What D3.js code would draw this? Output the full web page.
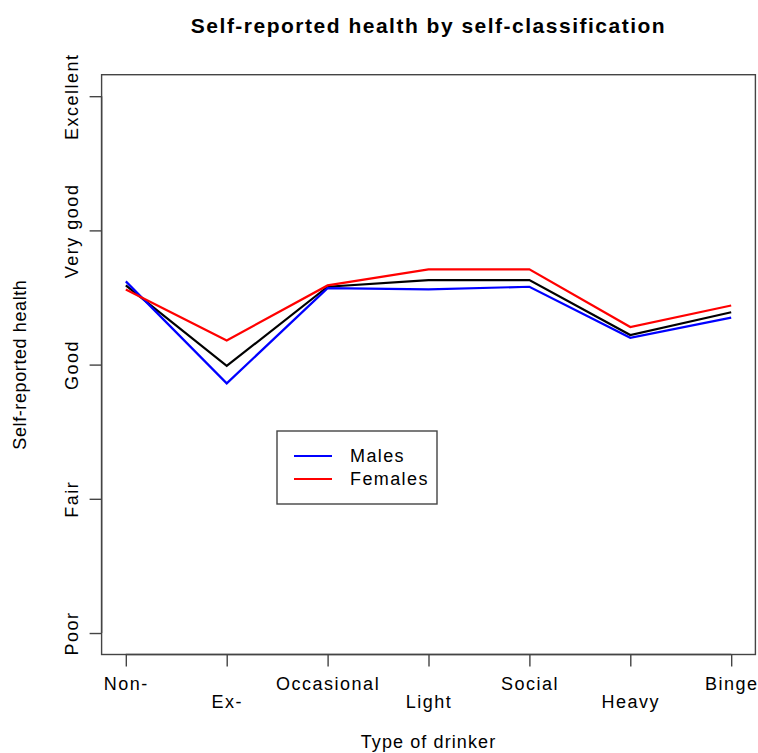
<!DOCTYPE html>
<html>
<head>
<meta charset="utf-8">
<script src="https://cdn.jsdelivr.net/npm/d3@7"></script>
<style>
  html, body { margin: 0; padding: 0; background: #fff; }
  svg { display: block; }
  text { font-family: "Liberation Sans", Arial, Helvetica, sans-serif; fill: #000; }
</style>
</head>
<body>
<svg id="chart" width="758" height="753"></svg>
<script>
const categories = ["Non-", "Ex-", "Occasional", "Light", "Social", "Heavy", "Binge"];
const healthLevels = ["Poor", "Fair", "Good", "Very good", "Excellent"];
const males   = [3.62, 2.86, 3.57, 3.56, 3.58, 3.20, 3.35];
const females = [3.56, 3.18, 3.59, 3.71, 3.71, 3.28, 3.44];
const overall = [3.59, 2.99, 3.58, 3.63, 3.63, 3.22, 3.39];
const legendLabels = ["Males", "Females"];
const seriesColors = { males: "#0000ff", females: "#ff0000", overall: "#000000" };

const svg = d3.select("#chart");
const L = 101.6, R = 755.4, T = 74.7, B = 654.5;

const x = d3.scaleLinear().domain([0.76, 7.24]).range([L, R]);
const y = d3.scaleLinear().domain([0.84, 5.16]).range([B, T]);

// Title
svg.append("text")
  .attr("x", (L + R) / 2).attr("y", 33)
  .attr("text-anchor", "middle")
  .style("font-size", "21px").style("font-weight", "bold")
  .style("letter-spacing", "1.5px")
  .text("Self-reported health by self-classification");

// Lines
const line = d3.line().x((d, i) => x(i + 1)).y(d => y(d));
[[overall, seriesColors.overall], [males, seriesColors.males], [females, seriesColors.females]].forEach(([vals, col]) => {
  svg.append("path").datum(vals)
    .attr("d", line)
    .attr("fill", "none")
    .attr("stroke", col)
    .attr("stroke-width", 2.2)
    .attr("stroke-linejoin", "miter");
});

// Box
svg.append("rect")
  .attr("x", L).attr("y", T).attr("width", R - L).attr("height", B - T)
  .attr("fill", "none").attr("stroke", "#444").attr("stroke-width", 1.4);

const tickFont = g => g.style("font-size", "18px").style("letter-spacing", "1.5px")
  .style("font-family", "'Liberation Sans', Arial, sans-serif").attr("fill", "#000");

// X axis
const xAxis = svg.append("g").attr("transform", `translate(0,${B})`)
  .call(d3.axisBottom(x).tickValues(d3.range(1, categories.length + 1))
    .tickFormat(i => categories[i - 1]).tickSize(12).tickPadding(0));
xAxis.select(".domain").attr("stroke", "#444").attr("stroke-width", 1.4)
  .attr("d", `M${x(1)},0H${x(7)}`);
xAxis.selectAll(".tick line").attr("stroke", "#444").attr("stroke-width", 1.4);
xAxis.selectAll(".tick text")
  .attr("y", (d, i) => i % 2 === 0 ? 35 : 53)
  .attr("dy", null)
  .call(tickFont);

// Y axis
const yAxis = svg.append("g").attr("transform", `translate(${L},0)`)
  .call(d3.axisLeft(y).tickValues(d3.range(1, healthLevels.length + 1))
    .tickFormat(v => healthLevels[v - 1]).tickSize(12).tickPadding(0));
yAxis.select(".domain").attr("stroke", "#444").attr("stroke-width", 1.4)
  .attr("d", `M0,${y(1)}V${y(5)}`);
yAxis.selectAll(".tick line").attr("stroke", "#444").attr("stroke-width", 1.4);
yAxis.selectAll(".tick text")
  .attr("x", null).attr("dy", null)
  .attr("text-anchor", "middle")
  .attr("transform", "translate(-24,0) rotate(-90)")
  .call(tickFont);

// Axis titles
svg.append("text")
  .attr("x", (L + R) / 2).attr("y", 748)
  .attr("text-anchor", "middle")
  .style("font-size", "18px").style("letter-spacing", "1.1px")
  .text("Type of drinker");
svg.append("text")
  .attr("transform", `translate(26,${(T + B) / 2}) rotate(-90)`)
  .attr("text-anchor", "middle")
  .style("font-size", "18px").style("letter-spacing", "0.6px")
  .text("Self-reported health");

// Legend
const lg = svg.append("g");
lg.append("rect").attr("x", 277).attr("y", 431).attr("width", 160).attr("height", 73)
  .attr("fill", "#fff").attr("stroke", "#444").attr("stroke-width", 1.4);
[[seriesColors.males, legendLabels[0]], [seriesColors.females, legendLabels[1]]].forEach(([col, lab], i) => {
  const yy = 456 + i * 23;
  lg.append("line").attr("x1", 294).attr("x2", 332).attr("y1", yy).attr("y2", yy)
    .attr("stroke", col).attr("stroke-width", 2.2);
  lg.append("text").attr("x", 350).attr("y", yy + 6)
    .style("font-size", "18px").style("letter-spacing", "1.4px")
    .text(lab);
});
</script>
</body>
</html>
